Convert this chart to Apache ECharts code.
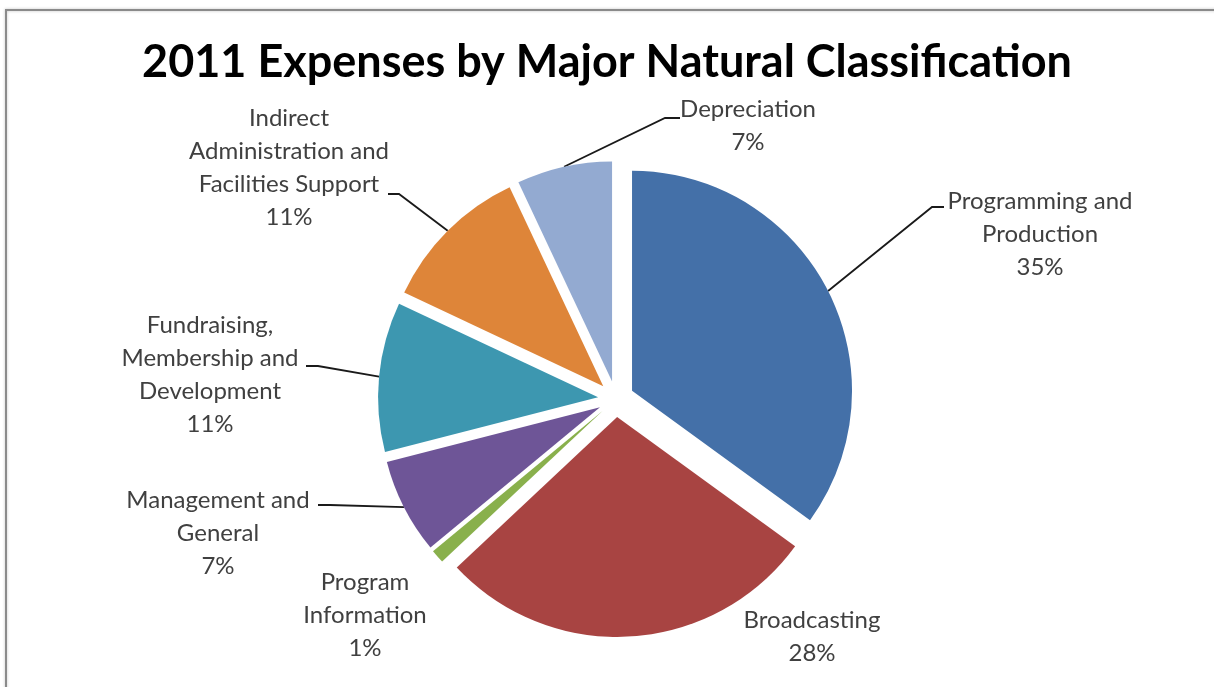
<!DOCTYPE html>
<html>
<head>
<meta charset="utf-8">
<title>2011 Expenses by Major Natural Classification</title>
<script src="https://cdn.jsdelivr.net/npm/echarts@6/dist/echarts.min.js"></script>
<style>
  html, body { margin: 0; padding: 0; background: #fff; }
  #chart { width: 1214px; height: 687px; }
</style>
</head>
<body>
<div id="chart"></div>
<script>
// 数据
var categories = [
  'Programming and\nProduction',
  'Broadcasting',
  'Program\nInformation',
  'Management and\nGeneral',
  'Fundraising,\nMembership and\nDevelopment',
  'Indirect\nAdministration and\nFacilities Support',
  'Depreciation'
]
var shares = [35, 28, 1, 7, 11, 11, 7]

var colors = ['#4470a8', '#a84442', '#89b04c', '#6e5597', '#3d97b0', '#de8539', '#93aad1']
// label centres (px), same order as categories
var labelPos = [
  [1040, 234],
  [812, 637],
  [365, 615],
  [218, 533],
  [210, 375],
  [289, 168],
  [748, 126]
]
// where the leader line meets the text: [elbow x, end x, y]; null = no line
var lineEnds = [
  [932, 944, 207],
  null,
  null,
  [330, 318, 505],
  [318, 306, 366],
  [399, 388, 194],
  [665, 680, 118]
]

var cx = 616, cy = 399, radius = 220, explode = 18

var chart = echarts.init(document.getElementById('chart'))

var total = shares.reduce(function (a, b) { return a + b }, 0)

// 每块饼单独一个 series，这样可以把它往外拉开
function makeSeries(i) {
  var before = 0
  for (var k = 0; k < i; k++) before += shares[k]
  var mid = (before + shares[i] / 2) / total * Math.PI * 2
  var data = categories.map(function (name, j) {
    var on = j === i
    return {
      name: name,
      value: shares[j],
      itemStyle: { color: on ? colors[j] : 'rgba(0,0,0,0)' },
      label: { show: on },
      labelLine: { show: on && lineEnds[j] != null }
    }
  })
  return {
    type: 'pie',
    silent: true,
    center: [cx + explode * Math.sin(mid), cy - explode * Math.cos(mid)],
    radius: radius,
    startAngle: 90,
    clockwise: true,
    avoidLabelOverlap: false,
    data: data,
    label: {
      position: 'outside',
      formatter: function (p) {
        return p.name + '\n' + Math.round(p.percent) + '%'
      },
      fontFamily: 'Lato',
      fontSize: 24,
      lineHeight: 33,
      color: '#404040',
      align: 'center'
    },
    labelLine: {
      length: 20,
      length2: 12,
      lineStyle: { color: '#1a1a1a', width: 1.8 }
    },
    labelLayout: function (params) {
      var p = labelPos[params.dataIndex]
      var res = {
        x: p[0],
        y: p[1],
        align: 'center',
        verticalAlign: 'middle'
      }
      var e = lineEnds[params.dataIndex]
      if (e && params.labelLinePoints) {
        var start = params.labelLinePoints[0]
        res.labelLinePoints = [[start[0], start[1]], [e[0], e[2]], [e[1], e[2]]]
      }
      return res
    },
    emphasis: { disabled: true }
  }
}

var series = []
for (var i = 0; i < categories.length; i++) {
  series.push(makeSeries(i))
}

var option = {
  backgroundColor: '#fff',
  animation: false,
  title: {
    text: '2011 Expenses by Major Natural Classification',
    left: 'center',
    top: 35,
    textStyle: {
      fontFamily: 'Lato',
      fontWeight: 'bold',
      fontSize: 45,
      color: '#000'
    }
  },
  graphic: [{
    type: 'polyline',
    shape: { points: [[6, 700], [6, 10], [1220, 10]] },
    style: { stroke: '#8a8a8a', lineWidth: 2, fill: null, shadowColor: 'rgba(0,0,0,0.25)', shadowBlur: 3 }
  }],
  series: series
}

chart.setOption(option)
</script>
</body>
</html>
